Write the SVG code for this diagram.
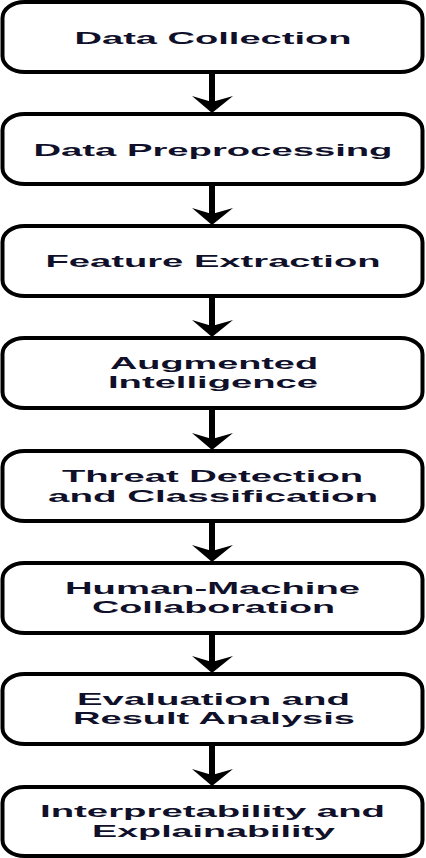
<svg xmlns="http://www.w3.org/2000/svg" width="426" height="858" viewBox="0 0 426 858">
<style>
.box{fill:#fff;stroke:#000;stroke-width:4}
.lbl{font-family:"Liberation Sans",Arial,sans-serif;font-weight:bold;font-size:17px;fill:#10102a;text-anchor:middle}
.shaft{stroke:#000;stroke-width:6;fill:none}
.head{fill:#000}
</style>
<rect width="426" height="858" fill="#fff"/>
<g id="connectors">
<line class="shaft" x1="212" y1="72" x2="212" y2="102"/><polygon class="head" points="192,96 212,102 233,96 212,113"/>
<line class="shaft" x1="212" y1="184" x2="212" y2="214"/><polygon class="head" points="192,208 212,214 233,208 212,225"/>
<line class="shaft" x1="212" y1="296" x2="212" y2="326"/><polygon class="head" points="192,320 212,326 233,320 212,337"/>
<line class="shaft" x1="212" y1="408" x2="212" y2="439"/><polygon class="head" points="192,433 212,439 233,433 212,450"/>
<line class="shaft" x1="212" y1="521" x2="212" y2="551"/><polygon class="head" points="192,545 212,551 233,545 212,562"/>
<line class="shaft" x1="212" y1="633" x2="212" y2="662"/><polygon class="head" points="192,656 212,662 233,656 212,673"/>
<line class="shaft" x1="212" y1="744" x2="212" y2="775"/><polygon class="head" points="192,769 212,775 233,769 212,786"/>
</g>
<g id="n1"><rect class="box" x="2.5" y="2" width="420" height="70" rx="22" ry="16"/><text class="lbl" x="213" y="44" textLength="277" lengthAdjust="spacingAndGlyphs">Data Collection</text></g>
<g id="n2"><rect class="box" x="2.5" y="114" width="420" height="70" rx="22" ry="16"/><text class="lbl" x="213" y="156" textLength="359" lengthAdjust="spacingAndGlyphs">Data Preprocessing</text></g>
<g id="n3"><rect class="box" x="2.5" y="226" width="420" height="70" rx="22" ry="16"/><text class="lbl" x="213" y="267" textLength="335" lengthAdjust="spacingAndGlyphs">Feature Extraction</text></g>
<g id="n4"><rect class="box" x="2.5" y="338" width="420" height="70" rx="22" ry="16"/><text class="lbl" x="214" y="369" textLength="208" lengthAdjust="spacingAndGlyphs">Augmented</text><text class="lbl" x="213" y="388" textLength="210" lengthAdjust="spacingAndGlyphs">Intelligence</text></g>
<g id="n5"><rect class="box" x="2.5" y="451" width="420" height="70" rx="22" ry="16"/><text class="lbl" x="212.5" y="482" textLength="301" lengthAdjust="spacingAndGlyphs">Threat Detection</text><text class="lbl" x="213" y="502" textLength="330" lengthAdjust="spacingAndGlyphs">and Classification</text></g>
<g id="n6"><rect class="box" x="2.5" y="563" width="420" height="70" rx="22" ry="16"/><text class="lbl" x="212.5" y="594" textLength="295" lengthAdjust="spacingAndGlyphs">Human-Machine</text><text class="lbl" x="213.5" y="613" textLength="243" lengthAdjust="spacingAndGlyphs">Collaboration</text></g>
<g id="n7"><rect class="box" x="2.5" y="674" width="420" height="70" rx="22" ry="16"/><text class="lbl" x="213.5" y="705" textLength="273" lengthAdjust="spacingAndGlyphs">Evaluation and</text><text class="lbl" x="214" y="724" textLength="282" lengthAdjust="spacingAndGlyphs">Result Analysis</text></g>
<g id="n8"><rect class="box" x="2.5" y="787" width="420" height="69" rx="22" ry="16"/><text class="lbl" x="212.5" y="817" textLength="345" lengthAdjust="spacingAndGlyphs">Interpretability and</text><text class="lbl" x="213.5" y="837" textLength="243" lengthAdjust="spacingAndGlyphs">Explainability</text></g>
</svg>
